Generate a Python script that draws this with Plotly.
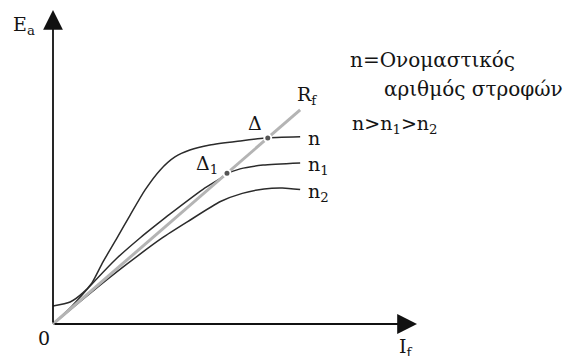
import plotly.graph_objects as go

# Magnetisation curves E_a(I_f) of a DC generator at three speeds, plus the field-resistance line.
# Units are arbitrary: both axes run from 0 to 100 (arrow tips at 100).
if_n = [0, 4.7, 8.2, 10.7, 13.7, 17.6, 21.2, 25.3, 29.4, 33.5, 37.6, 43.1, 51.4, 58.2, 67.9]
ea_n = [5.7, 7.0, 9.9, 13.1, 19.7, 27.4, 34.7, 42.7, 49.0, 53.2, 55.4, 57.0, 58.3, 59.2, 59.6]

if_n1 = [0, 4.7, 10.2, 17.6, 23.9, 28.6, 32.1, 41.2, 45.9, 47.8, 51.4, 57.7, 67.9]
ea_n1 = [0, 5.1, 12.1, 21.0, 27.4, 31.8, 35.0, 42.9, 46.3, 47.8, 49.4, 50.6, 51.3]

if_n2 = [0, 10, 20, 30, 37, 46, 52, 58, 63, 67.9]
ea_n2 = [0, 9.6, 18.8, 27.4, 32.6, 39.0, 41.6, 43.0, 43.3, 42.8]

# Field-resistance line R_f
if_rf = [0, 67.9]
ea_rf = [0, 68.2]

# Operating points (intersections with R_f)
op_labels = ["Δ", "Δ<sub>1</sub>"]
op_if = [59.0, 47.8]
op_ea = [59.2, 48.0]

curve_labels = ["n", "n<sub>1</sub>", "n<sub>2</sub>"]

# Canvas geometry: pixel position of the origin and pixels per axis unit
W, H = 572, 356
ORIGIN_PX = (53, 324)
PX_PER_UNIT = (3.64, 3.14)

x_range = [-ORIGIN_PX[0] / PX_PER_UNIT[0], (W - ORIGIN_PX[0]) / PX_PER_UNIT[0]]
y_range = [-(H - ORIGIN_PX[1]) / PX_PER_UNIT[1], ORIGIN_PX[1] / PX_PER_UNIT[1]]

FONT = "DejaVu Serif"
TXT = "#141414"
CURVE = "#2b2b2b"

fig = go.Figure()

for xs, ys in [(if_n, ea_n), (if_n1, ea_n1), (if_n2, ea_n2)]:
    fig.add_trace(go.Scatter(x=xs, y=ys, mode="lines",
                             line=dict(color=CURVE, width=1.5, shape="spline", smoothing=0.6),
                             hoverinfo="skip"))

fig.add_trace(go.Scatter(x=if_rf, y=ea_rf, mode="lines",
                         line=dict(color="#b4b4b4", width=3), hoverinfo="skip"))

fig.add_trace(go.Scatter(x=op_if, y=op_ea, mode="markers",
                         marker=dict(size=7, color="#555555", line=dict(color="white", width=2)),
                         hoverinfo="skip"))

annotations = []

# Axes with arrowheads
for hx, hy in [(0, 100), (100, 0)]:
    annotations.append(dict(x=hx, y=hy, ax=0, ay=0, xref="x", yref="y", axref="x", ayref="y",
                            text="", showarrow=True, arrowhead=2, arrowsize=2.2, arrowwidth=1.8,
                            arrowcolor="#111111"))


def label(text, x, y, xanchor="left", yanchor="middle", xshift=0, yshift=0, size=19):
    annotations.append(dict(text=text, x=x, y=y, xref="x", yref="y", showarrow=False,
                            xanchor=xanchor, yanchor=yanchor, xshift=xshift, yshift=yshift,
                            font=dict(family=FONT, size=size, color=TXT)))


# Curve-end labels
for txt, xs, ys in zip(curve_labels, [if_n, if_n1, if_n2], [ea_n, ea_n1, ea_n2]):
    label(txt, xs[-1], ys[-1], xshift=6, yshift=-1 if txt == "n" else -3)

label("R<sub>f</sub>", if_rf[-1], ea_rf[-1], xshift=-5, yshift=14)

# Operating point labels
label(op_labels[0], op_if[0], op_ea[0], xanchor="center", xshift=-13, yshift=15)
label(op_labels[1], op_if[1], op_ea[1], xanchor="center", xshift=-20, yshift=9)

# Axis labels
label("E<sub>a</sub>", -11.5, 95.0)
label("0", 0, 0, xanchor="center", yanchor="middle", xshift=-9, yshift=-14)
label("I<sub>f</sub>", 94.5, -7.5)

# Speed note
label("n=Ονομαστικός", 81.0, 84.0, size=20)
label("αριθμός στροφών", 90.4, 74.8, size=20)
label("n>n<sub>1</sub>>n<sub>2</sub>", 81.6, 63.4)

fig.update_layout(
    width=W, height=H,
    margin=dict(l=0, r=0, t=0, b=0),
    paper_bgcolor="white", plot_bgcolor="white",
    showlegend=False,
    xaxis=dict(range=x_range, visible=False, fixedrange=True),
    yaxis=dict(range=y_range, visible=False, fixedrange=True),
    annotations=annotations,
)

fig.write_html("out.html")
